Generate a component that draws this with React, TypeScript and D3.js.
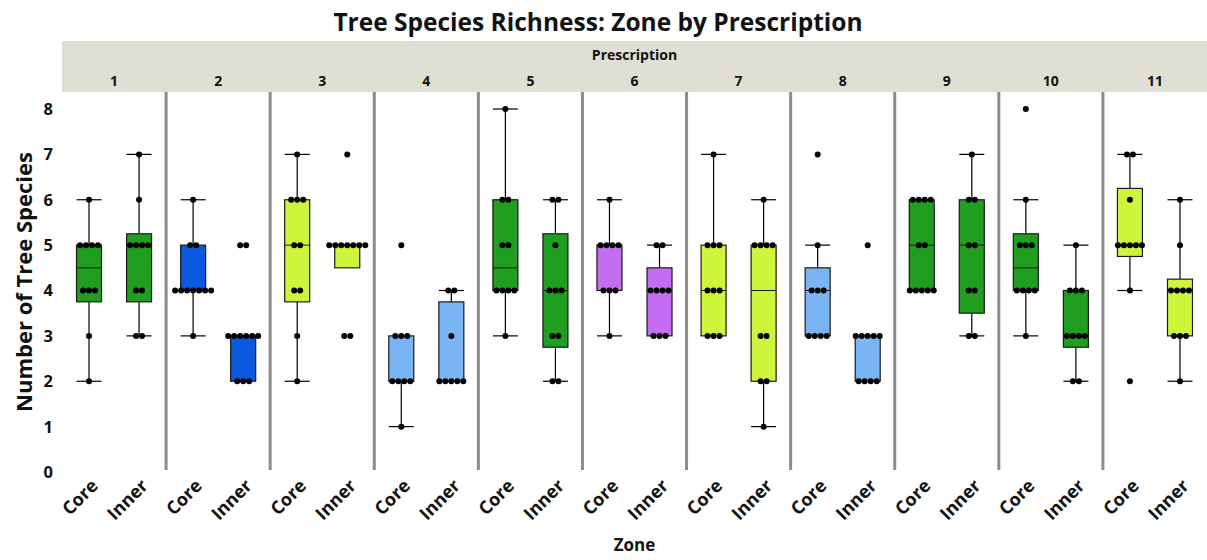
import { scaleBand, scaleLinear, scalePoint } from "d3";

const prescriptions = ["1", "2", "3", "4", "5", "6", "7", "8", "9", "10", "11"];
const zones = ["Core", "Inner"];
const yTicks = [0, 1, 2, 3, 4, 5, 6, 7, 8];

// tree species counts per plot, one list per prescription
const coreValues = [
  [2, 3, 4, 4, 4, 5, 5, 5, 5, 6],
  [3, 4, 4, 4, 4, 4, 4, 4, 5, 5, 6],
  [2, 3, 4, 4, 5, 5, 6, 6, 6, 7],
  [1, 2, 2, 2, 2, 3, 3, 3, 5],
  [3, 4, 4, 4, 4, 5, 5, 6, 6, 8],
  [3, 4, 4, 4, 5, 5, 5, 5, 6],
  [3, 3, 3, 4, 4, 4, 5, 5, 5, 7],
  [3, 3, 3, 3, 4, 4, 4, 5, 7],
  [4, 4, 4, 4, 4, 5, 5, 6, 6, 6, 6],
  [3, 4, 4, 4, 4, 5, 5, 5, 6, 8],
  [2, 4, 5, 5, 5, 5, 5, 6, 7, 7],
];

const innerValues = [
  [3, 3, 4, 4, 5, 5, 5, 5, 6, 7],
  [2, 2, 2, 3, 3, 3, 3, 3, 3, 5, 5],
  [3, 3, 5, 5, 5, 5, 5, 5, 5, 7],
  [2, 2, 2, 2, 2, 3, 4, 4],
  [2, 2, 3, 3, 4, 4, 4, 5, 6, 6],
  [3, 3, 3, 4, 4, 4, 4, 5, 5],
  [1, 2, 2, 3, 3, 5, 5, 5, 5, 6],
  [2, 2, 2, 2, 3, 3, 3, 3, 3, 5],
  [3, 3, 4, 4, 5, 5, 6, 6, 7],
  [2, 2, 3, 3, 3, 3, 4, 4, 4, 5],
  [2, 3, 3, 3, 4, 4, 4, 4, 5, 6],
];

const green = "#1f9e1f";
const blue = "#0b59de";
const lime = "#cdf53a";
const lightBlue = "#79b5f4";
const purple = "#c56df2";
const panelFill = [green, blue, lime, lightBlue, green, purple, lime, lightBlue, green, green, lime];

// quantile the way JMP does it: position p*(n+1)
function quantile(sorted: number[], p: number) {
  const n = sorted.length;
  const pos = p * (n + 1);
  if (pos <= 1) return sorted[0];
  if (pos >= n) return sorted[n - 1];
  const lo = Math.floor(pos);
  const frac = pos - lo;
  return sorted[lo - 1] + frac * (sorted[lo] - sorted[lo - 1]);
}

function boxStats(values: number[]) {
  const s = [...values].sort((a, b) => a - b);
  const q1 = quantile(s, 0.25);
  const median = quantile(s, 0.5);
  const q3 = quantile(s, 0.75);
  const iqr = q3 - q1;
  const inside = s.filter((v) => v >= q1 - 1.5 * iqr && v <= q3 + 1.5 * iqr);
  return { q1, median, q3, low: inside[0], high: inside[inside.length - 1] };
}

const font = "'Open Sans', 'Noto Sans', sans-serif";

export default function App() {
  const width = 1207;
  const height = 560;
  const left = 62;
  const stripTop = 41;
  const stripBottom = 92;
  const plotBottom = 470;
  const boxWidth = 25;
  const dotR = 3;
  const dotStep = 6;

  const xPanel = scaleBand().domain(prescriptions).range([left, width]).padding(0);
  const xZone = scalePoint().domain(zones).range([0, xPanel.bandwidth()]).padding(0.54);
  const y = scaleLinear().domain([0, 8]).range([472, 109]);

  const groups = prescriptions.flatMap((p, i) =>
    zones.map((z) => {
      const values = z === "Core" ? coreValues[i] : innerValues[i];
      return { p, z, values, fill: panelFill[i], cx: (xPanel(p) ?? 0) + (xZone(z) ?? 0), stats: boxStats(values) };
    })
  );

  return (
    <svg
      width={width}
      height={height}
      viewBox={`0 0 ${width} ${height}`}
      style={{ position: "absolute", left: 0, top: 0, background: "#ffffff" }}
      fontFamily={font}
    >
      <text x={598} y={31} textAnchor="middle" fontSize="24.5" fontWeight="700" fill="#111">
        Tree Species Richness: Zone by Prescription
      </text>

      <rect x={left} y={stripTop} width={width - left} height={stripBottom - stripTop} fill="#dfdfd3" />
      <text x={(left + width) / 2} y={60} textAnchor="middle" fontSize="14" fontWeight="700" fill="#111">
        Prescription
      </text>
      {prescriptions.map((p) => (
        <text
          key={p}
          x={(xPanel(p) ?? 0) + xPanel.bandwidth() / 2}
          y={86}
          textAnchor="middle"
          fontSize="14"
          fontWeight="700"
          fill="#111"
        >
          {p}
        </text>
      ))}

      {prescriptions.slice(1).map((p) => (
        <line
          key={p}
          x1={xPanel(p)}
          x2={xPanel(p)}
          y1={stripBottom}
          y2={plotBottom}
          stroke="#8c8c8c"
          strokeWidth="3"
        />
      ))}

      {yTicks.map((t) => (
        <text
          key={t}
          x={53}
          y={y(t)}
          dy="0.36em"
          textAnchor="end"
          fontSize="16.5"
          fontWeight="700"
          fill="#111"
        >
          {t}
        </text>
      ))}
      <text
        transform="translate(32,282) rotate(-90)"
        textAnchor="middle"
        fontSize="22"
        fontWeight="700"
        fill="#111"
      >
        Number of Tree Species
      </text>

      {groups.map((g) => {
        const { q1, median, q3, low, high } = g.stats;
        const x0 = g.cx - boxWidth / 2;
        const x1 = g.cx + boxWidth / 2;
        const counts = new Map<number, number>();
        g.values.forEach((v) => counts.set(v, (counts.get(v) ?? 0) + 1));
        return (
          <g key={`${g.p}-${g.z}`}>
            {high > q3 ? (
              <>
                <line x1={g.cx} x2={g.cx} y1={y(q3)} y2={y(high)} stroke="#000" strokeWidth="1.2" />
                <line x1={x0} x2={x1} y1={y(high)} y2={y(high)} stroke="#000" strokeWidth="1.2" />
              </>
            ) : null}
            {low < q1 ? (
              <>
                <line x1={g.cx} x2={g.cx} y1={y(q1)} y2={y(low)} stroke="#000" strokeWidth="1.2" />
                <line x1={x0} x2={x1} y1={y(low)} y2={y(low)} stroke="#000" strokeWidth="1.2" />
              </>
            ) : null}
            <rect
              x={x0}
              y={y(q3)}
              width={boxWidth}
              height={Math.max(0, y(q1) - y(q3))}
              fill={g.fill}
              stroke="#1a1a1a"
              strokeWidth="1.2"
            />
            <line x1={x0} x2={x1} y1={y(median)} y2={y(median)} stroke="#1a1a1a" strokeWidth="1" />
            {[...counts.entries()].flatMap(([v, k]) =>
              Array.from({ length: k }, (_, j) => (
                <circle
                  key={`${v}-${j}`}
                  cx={g.cx + (j - (k - 1) / 2) * dotStep}
                  cy={y(v)}
                  r={dotR}
                  fill="#000"
                />
              ))
            )}
            <text
              transform={`translate(${g.cx + 10},${487}) rotate(-45)`}
              textAnchor="end"
              fontSize="18"
              fontWeight="700"
              fill="#111"
            >
              {g.z}
            </text>
          </g>
        );
      })}

      <text x={(left + width) / 2} y={551} textAnchor="middle" fontSize="17" fontWeight="700" fill="#111">
        Zone
      </text>
    </svg>
  );
}
